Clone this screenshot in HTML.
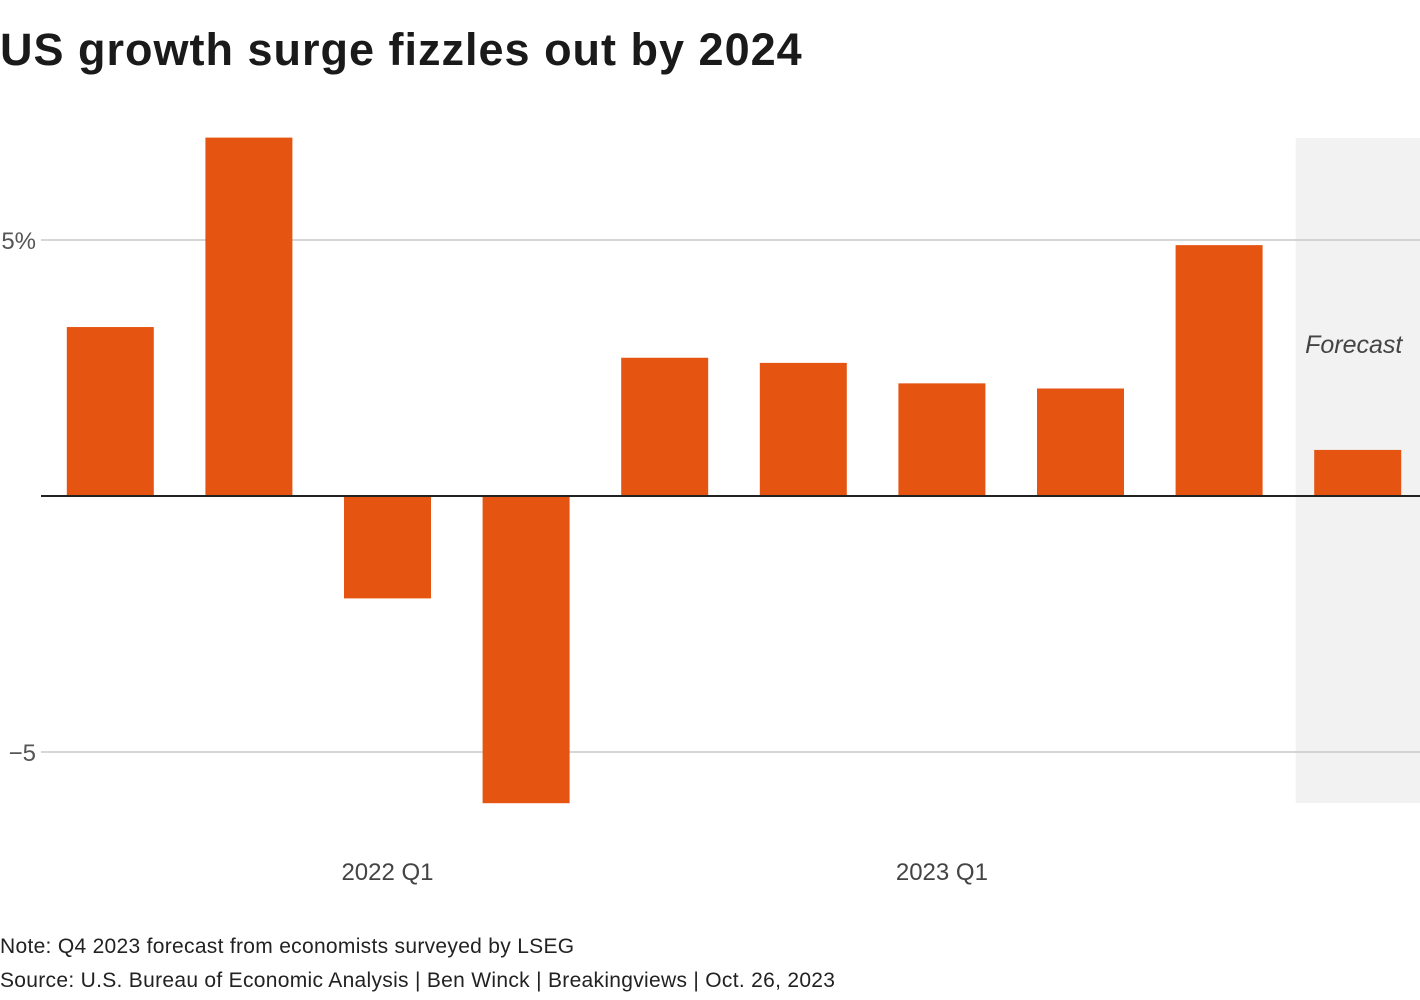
<!DOCTYPE html>
<html><head><meta charset="utf-8"><style>
body{margin:0;width:1420px;height:1000px;background:#fff;font-family:"Liberation Sans",sans-serif;overflow:hidden;position:relative}
#title{position:absolute;left:0;top:24px;font-size:45px;font-weight:bold;color:#1a1a1a;letter-spacing:1px}
.foot{position:absolute;left:0;font-size:21px;color:#222;letter-spacing:0.3px}
</style></head><body>
<div id="title">US growth surge fizzles out by 2024</div>
<svg id="chart" width="1420" height="1000" style="position:absolute;left:0;top:0"></svg>
<div class="foot" style="top:935px">Note: Q4 2023 forecast from economists surveyed by LSEG</div>
<div class="foot" style="top:969px">Source: U.S. Bureau of Economic Analysis | Ben Winck | Breakingviews | Oct. 26, 2023</div>
<script>
const categories=["2021 Q3","2021 Q4","2022 Q1","2022 Q2","2022 Q3","2022 Q4","2023 Q1","2023 Q2","2023 Q3","2023 Q4"];
const values=[3.3,7.0,-2.0,-6.0,2.7,2.6,2.2,2.1,4.9,0.9];
const yTicks=[5,-5];
const yTickLabels=["5%","−5"];
const xLabels={"2022 Q1":"2022 Q1","2023 Q1":"2023 Q1"};
const forecastIndex=9;
const NS="http://www.w3.org/2000/svg";
const svg=document.getElementById('chart');
const y=v=>496-v*51.2;
const x0=41,step=138.6,bw=87;
const xc=i=>x0+step*(i+0.5);
function mk(t,a){const e=document.createElementNS(NS,t);for(const k in a)e.setAttribute(k,a[k]);svg.appendChild(e);return e;}
const fs=mk('rect',{x:xc(forecastIndex)-62,y:138,width:1420-(xc(forecastIndex)-62),height:665,fill:'#f2f2f2'});


yTicks.forEach((t,i)=>{
 const g=mk('line',{x1:x0,x2:1420,y1:y(t),y2:y(t),stroke:'#c8c8c8','stroke-width':1.5});
 
 
 const l=mk('text',{x:36,y:y(t)+9,'text-anchor':'end','font-size':24,fill:'#555'});
 l.textContent=yTickLabels[i];
 
 
});
values.forEach((v,i)=>{
 const r=mk('rect',{x:xc(i)-bw/2,y:Math.min(y(v),y(0)),width:bw,height:Math.abs(y(v)-y(0)),fill:'#e55511'});
 
 
 if(xLabels[categories[i]]){
  const t=mk('text',{x:xc(i),y:880,'text-anchor':'middle','font-size':24,fill:'#444'});
  t.textContent=xLabels[categories[i]];
  
  
 }
});
const z=mk('line',{x1:x0,x2:1420,y1:y(0),y2:y(0),stroke:'#222','stroke-width':2});


const ft=mk('text',{x:xc(forecastIndex)-4,y:353,'text-anchor':'middle','font-size':25,'font-style':'italic',fill:'#444'});
ft.textContent='Forecast';


</script>
</body></html>
